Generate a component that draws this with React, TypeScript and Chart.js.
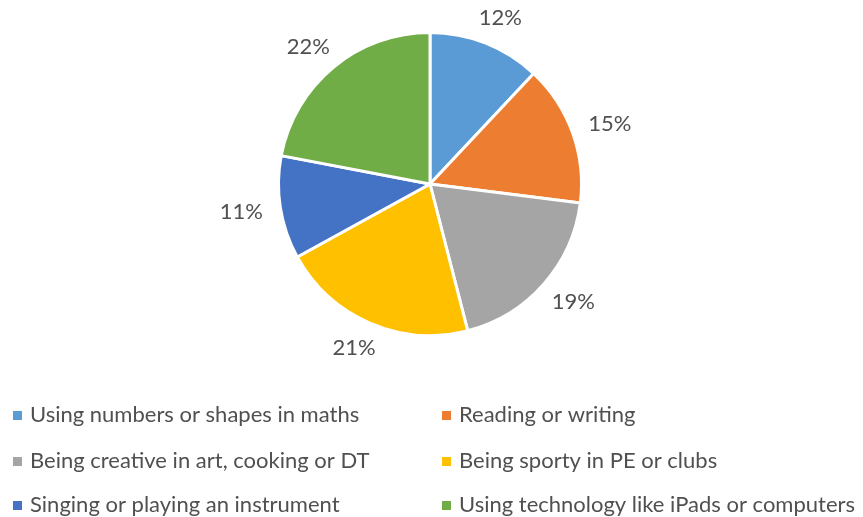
import React, { useEffect, useRef } from "react";
import { Chart, registerables } from "chart.js";

Chart.register(...registerables);

const categories = [
  "Using numbers or shapes in maths",
  "Reading or writing",
  "Being creative in art, cooking or DT",
  "Being sporty in PE or clubs",
  "Singing or playing an instrument",
  "Using technology like iPads or computers",
];
const values = [12, 15, 19, 21, 11, 22];
const colors = ["#5B9BD5", "#ED7D31", "#A5A5A5", "#FFC000", "#4472C4", "#70AD47"];

const FONT = "Lato, 'Open Sans', sans-serif";
const TEXT = "#505050";

const labelPlugin = {
  id: "outLabels",
  afterDraw(chart: any) {
    const ctx = chart.ctx;
    const meta = chart.getDatasetMeta(0);
    ctx.save();
    ctx.font = `22px ${FONT}`;
    ctx.fillStyle = TEXT;
    ctx.textAlign = "center";
    ctx.textBaseline = "middle";
    meta.data.forEach((arc: any, i: number) => {
      const mid = (arc.startAngle + arc.endAngle) / 2;
      const r = arc.outerRadius + 18;
      const cx = arc.x + Math.cos(mid) * r;
      const cy = arc.y + Math.sin(mid) * r;
      const txt = `${values[i]}%`;
      const w = ctx.measureText(txt).width;
      const h = 18;
      const tx = cx + Math.cos(mid) * (w / 2);
      const ty = cy + Math.sin(mid) * (h / 2);
      ctx.fillText(txt, tx, ty);
    });
    ctx.restore();
  },
};

const legendPlugin = {
  id: "gridLegend",
  afterDraw(chart: any) {
    const ctx = chart.ctx;
    ctx.save();
    ctx.font = `22px ${FONT}`;
    ctx.textAlign = "left";
    ctx.textBaseline = "middle";
    const colX = [13, 442];
    const rowY = [415, 461, 505];
    categories.forEach((c, i) => {
      const x = colX[i % 2];
      const y = rowY[Math.floor(i / 2)];
      ctx.fillStyle = colors[i];
      ctx.fillRect(x, y - 4, 9, 9);
      ctx.fillStyle = TEXT;
      ctx.fillText(c, x + 17, y);
    });
    ctx.restore();
  },
};

export default function App() {
  const ref = useRef<HTMLCanvasElement>(null);
  useEffect(() => {
    document.body.style.margin = "0";
    const chart = new Chart(ref.current!, {
      type: "pie",
      data: {
        labels: categories,
        datasets: [
          {
            data: values,
            backgroundColor: colors,
            borderColor: "#ffffff",
            borderWidth: 3,
          },
        ],
      },
      options: {
        animation: false,
        responsive: false,
        rotation: 0,
        layout: { padding: { top: 31, bottom: 180, left: 277, right: 280 } },
        plugins: { legend: { display: false }, tooltip: { enabled: false } },
      },
      plugins: [labelPlugin, legendPlugin],
    });
    return () => chart.destroy();
  }, []);
  return (
    <div style={{ width: 863, height: 517, background: "#fff" }}>
      <canvas ref={ref} width={863} height={517} style={{ display: "block" }} />
    </div>
  );
}
